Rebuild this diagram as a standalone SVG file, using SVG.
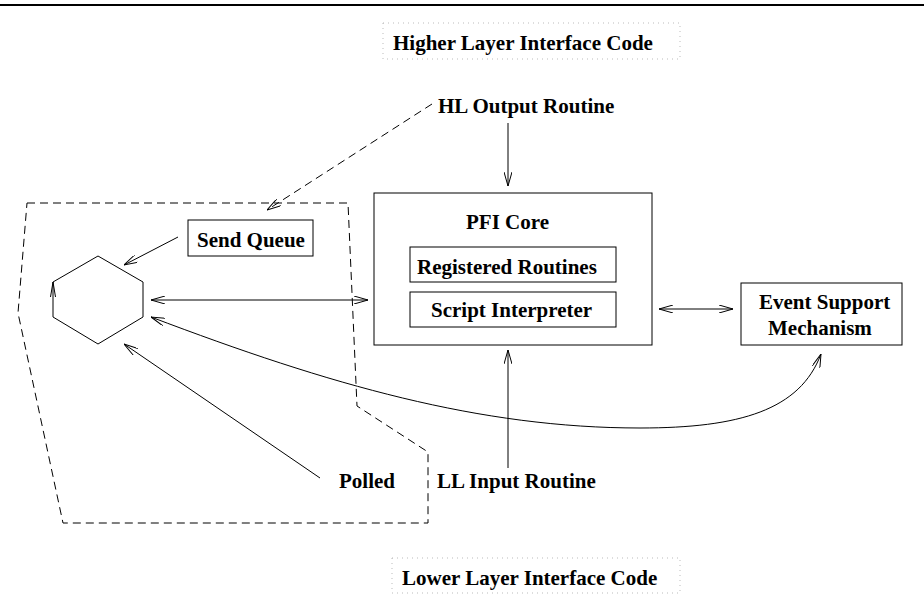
<svg xmlns="http://www.w3.org/2000/svg" width="924" height="611" viewBox="0 0 924 611">
<style>
  text { font-family: "Liberation Serif", "Times New Roman", serif; font-weight: bold; font-size: 21px; fill: #000; }
  .box { fill: none; stroke: #000; stroke-width: 1; }
  .ln { fill: none; stroke: #000; stroke-width: 1; }
  .dash { fill: none; stroke: #000; stroke-width: 1; stroke-dasharray: 8 5; }
  .dot { fill: none; stroke: #bbb; stroke-width: 1; stroke-dasharray: 1 4; }
</style>
<defs>
  <marker id="ah" viewBox="0 0 14 8" refX="14" refY="4" markerWidth="14" markerHeight="8" markerUnits="userSpaceOnUse" orient="auto-start-reverse">
    <path d="M0,0 L14,4 L0,8" fill="none" stroke="#000" stroke-width="1"/>
  </marker>
</defs>
<rect width="924" height="611" fill="#fff"/>
<line x1="0" y1="5" x2="924" y2="5" stroke="#000" stroke-width="2"/>

<g id="higher">
  <rect class="dot" x="383" y="23" width="297" height="36"/>
  <text x="393" y="50">Higher Layer Interface Code</text>
</g>
<g id="hl-output">
  <text x="438" y="113">HL Output Routine</text>
</g>
<g id="region">
  <path class="dash" d="M27,203 L348,203 L357,406 L428,452 L428,523 L63,523 L18,313 Z"/>
</g>
<g id="send-queue">
  <rect class="box" x="188" y="220" width="125" height="36"/>
  <text x="197" y="247">Send Queue</text>
</g>
<g id="hexagon">
  <polygon class="box" points="98,256 143,282 143,317 98,344 53,317 53,282"/>
  <path class="ln" d="M50.5,297 L53,282 L55.5,297"/>
</g>
<g id="pfi-core">
  <rect class="box" x="374" y="193" width="278" height="152"/>
  <text x="466" y="229">PFI Core</text>
  <g id="registered-routines">
    <rect class="box" x="410" y="247" width="206" height="35"/>
    <text x="417" y="274">Registered Routines</text>
  </g>
  <g id="script-interpreter">
    <rect class="box" x="410" y="292" width="206" height="35"/>
    <text x="431" y="317">Script Interpreter</text>
  </g>
</g>
<g id="event-support">
  <rect class="box" x="741" y="283" width="161" height="62"/>
  <text x="759" y="309">Event Support</text>
  <text x="768" y="335">Mechanism</text>
</g>
<g id="polled">
  <text x="339" y="488">Polled</text>
</g>
<g id="ll-input">
  <text x="437" y="488">LL Input Routine</text>
</g>
<g id="lower">
  <rect class="dot" x="392" y="558" width="288" height="35"/>
  <text x="402" y="585">Lower Layer Interface Code</text>
</g>

<g id="connectors">
  <line class="ln" x1="508" y1="123" x2="508" y2="186" marker-end="url(#ah)"/>
  <line class="dash" x1="432" y1="104" x2="267" y2="210" marker-end="url(#ah)"/>
  <line class="ln" x1="178" y1="237" x2="124" y2="265" marker-end="url(#ah)"/>
  <line class="ln" x1="151" y1="300" x2="368" y2="300" marker-start="url(#ah)" marker-end="url(#ah)"/>
  <line class="ln" x1="659" y1="309" x2="733" y2="309" marker-start="url(#ah)" marker-end="url(#ah)"/>
  <path class="ln" d="M151,317 C330,385 480,428 640,428 C740,428 800,410 821,354" marker-start="url(#ah)" marker-end="url(#ah)"/>
  <line class="ln" x1="320" y1="478" x2="124" y2="344" marker-end="url(#ah)"/>
  <line class="ln" x1="508" y1="468" x2="508" y2="350" marker-end="url(#ah)"/>
</g>
</svg>
